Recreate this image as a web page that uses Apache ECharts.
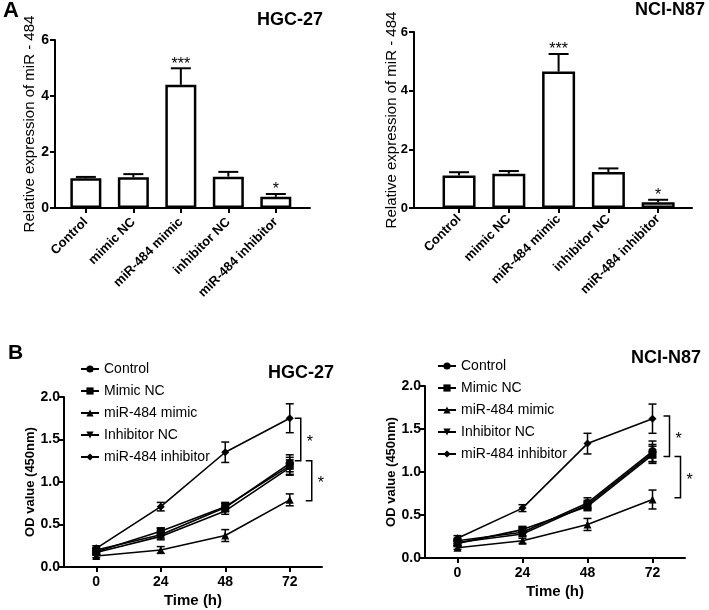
<!DOCTYPE html>
<html><head><meta charset="utf-8">
<script src="https://cdn.jsdelivr.net/npm/echarts@6/dist/echarts.min.js"></script>
<style>html,body{margin:0;padding:0;background:#fff}#c{width:709px;height:610px}</style>
</head><body><div id="c"></div>
<script>
// ---------- data ----------
const barCategories = ['Control', 'mimic NC', 'miR-484 mimic', 'inhibitor NC', 'miR-484 inhibitor'];
const barSig = ['', '', '***', '', '*'];
const hgcBarMean = [1.06, 1.10, 4.40, 1.12, 0.40];
const hgcBarErr  = [0.05, 0.11, 0.59, 0.17, 0.10];
const nciBarMean = [1.11, 1.17, 4.65, 1.23, 0.20];
const nciBarErr  = [0.11, 0.09, 0.60, 0.12, 0.08];

const timePoints = ['0', '24', '48', '72'];
const seriesNames = ['Control', 'Mimic NC', 'miR-484 mimic', 'Inhibitor NC', 'miR-484 inhibitor'];

const hgcControl     = [0.20, 0.38, 0.70, 1.22];
const hgcControlErr  = [0.03, 0.04, 0.05, 0.10];
const hgcMimicNC     = [0.18, 0.42, 0.71, 1.19];
const hgcMimicNCErr  = [0.03, 0.04, 0.05, 0.10];
const hgcMimic       = [0.13, 0.20, 0.37, 0.79];
const hgcMimicErr    = [0.02, 0.04, 0.07, 0.07];
const hgcInhibNC     = [0.17, 0.36, 0.66, 1.17];
const hgcInhibNCErr  = [0.03, 0.04, 0.04, 0.09];
const hgcInhib       = [0.22, 0.71, 1.35, 1.75];
const hgcInhibErr    = [0.03, 0.05, 0.12, 0.17];

const nciControl     = [0.20, 0.30, 0.64, 1.24];
const nciControlErr  = [0.03, 0.04, 0.06, 0.12];
const nciMimicNC     = [0.17, 0.33, 0.60, 1.20];
const nciMimicNCErr  = [0.03, 0.03, 0.05, 0.10];
const nciMimic       = [0.12, 0.20, 0.39, 0.68];
const nciMimicErr    = [0.02, 0.03, 0.07, 0.11];
const nciInhibNC     = [0.18, 0.28, 0.62, 1.22];
const nciInhibNCErr  = [0.03, 0.03, 0.05, 0.10];
const nciInhib       = [0.23, 0.58, 1.33, 1.62];
const nciInhibErr    = [0.03, 0.04, 0.12, 0.17];

// significance brackets at 72 h: [upper value, lower value]
const hgcBrackets = [[1.75, 1.25], [1.25, 0.78]];
const nciBrackets = [[1.65, 1.18], [1.18, 0.70]];

// ---------- rendering ----------
const F = 'Arial, "Liberation Sans", Helvetica, sans-serif';
const chart = echarts.init(document.getElementById('c'), null, {renderer: 'canvas'});

const symbols = ['circle', 'rect', 'triangle', 'triangle', 'diamond'];
const rotations = [0, 0, 0, 180, 0];
const sizes = [8, 8, 8, 8, 8];

function barAxesX(gi, min, max, margin) {
  return {
    gridIndex: gi, type: 'value', min: min, max: max,
    axisLine: {show: true, onZero: false, lineStyle: {color: '#000', width: 2}},
    axisTick: {show: true, customValues: [0, 1, 2, 3, 4], length: 5, lineStyle: {color: '#000', width: 2}},
    axisLabel: {customValues: [0, 1, 2, 3, 4], formatter: v => barCategories[Math.round(v)], rotate: 45,
      fontFamily: F, fontWeight: 'bold', fontSize: 13, color: '#000', margin: margin},
    splitLine: {show: false}
  };
}
function barAxesY(gi, gap, lm, fs) {
  return {
    gridIndex: gi, type: 'value', min: 0, max: 6, interval: 2,
    name: 'Relative expression of miR - 484', nameLocation: 'middle', nameGap: gap, nameMoveOverlap: false,
    nameTextStyle: {fontFamily: F, fontSize: 15, color: '#000'},
    axisLine: {show: true, onZero: false, lineStyle: {color: '#000', width: 2}},
    axisTick: {show: true, length: 5, lineStyle: {color: '#000', width: 2}},
    axisLabel: {fontFamily: F, fontWeight: 'bold', fontSize: fs, color: '#000', margin: lm},
    splitLine: {show: false}
  };
}
function lineAxesX(gi) {
  return {
    gridIndex: gi, type: 'category', data: timePoints, boundaryGap: true,
    name: 'Time (h)', nameLocation: 'middle', nameGap: 26,
    nameTextStyle: {fontFamily: F, fontWeight: 'bold', fontSize: 15, color: '#000'},
    axisLine: {show: true, lineStyle: {color: '#000', width: 2}},
    axisTick: {show: true, alignWithLabel: true, length: 5, lineStyle: {color: '#000', width: 2}},
    axisLabel: {fontFamily: F, fontWeight: 'bold', fontSize: 14, color: '#000', margin: 8},
    splitLine: {show: false}
  };
}
function lineAxesY(gi) {
  return {
    gridIndex: gi, type: 'value', min: 0, max: 2, interval: 0.5,
    name: 'OD value (450nm)', nameLocation: 'middle', nameGap: 26,
    nameTextStyle: {fontFamily: F, fontWeight: 'bold', fontSize: 13, color: '#000'},
    axisLine: {show: true, onZero: false, lineStyle: {color: '#000', width: 2}},
    axisTick: {show: true, length: 5, lineStyle: {color: '#000', width: 2}},
    axisLabel: {fontFamily: F, fontWeight: 'bold', fontSize: 14, color: '#000', margin: 4, formatter: v => v.toFixed(1)},
    splitLine: {show: false}
  };
}

function barSeries(gi, means, errs, bw, capHalf) {
  const bars = {
    type: 'bar', xAxisIndex: gi, yAxisIndex: gi, barWidth: bw, silent: true,
    data: means.map((v, i) => [i, v]),
    itemStyle: {color: '#fff', borderColor: '#000', borderWidth: 2.5}
  };
  const err = {
    type: 'custom', xAxisIndex: gi, yAxisIndex: gi, silent: true, z: 5,
    data: means.map((v, i) => [i, v, v + errs[i]]),
    renderItem: function (params, api) {
      const p1 = api.coord([api.value(0), api.value(1)]);
      const p2 = api.coord([api.value(0), api.value(2)]);
      const st = {stroke: '#000', lineWidth: 2};
      const children = [
        {type: 'line', shape: {x1: p1[0], y1: p1[1], x2: p2[0], y2: p2[1]}, style: st},
        {type: 'line', shape: {x1: p2[0] - capHalf, y1: p2[1], x2: p2[0] + capHalf, y2: p2[1]}, style: st}
      ];
      const s = barSig[params.dataIndex];
      if (s) children.push({type: 'text', style: {text: s, x: p2[0], y: p2[1] + 4, align: 'center',
        verticalAlign: 'bottom', fontFamily: F, fontSize: 16, fill: '#000'}});
      return {type: 'group', children: children};
    }
  };
  return [bars, err];
}

function lineSeries(gi, arrs, errs, brackets, offs) {
  const out = [];
  arrs.forEach((a, k) => {
    out.push({
      type: 'line', name: seriesNames[k], xAxisIndex: gi, yAxisIndex: gi, data: a,
      symbol: symbols[k], symbolSize: sizes[k], symbolRotate: rotations[k], showSymbol: true,
      lineStyle: {color: '#000', width: 1.6}, itemStyle: {color: '#000'}, z: 3
    });
  });
  const eData = [];
  arrs.forEach((a, k) => a.forEach((v, i) => eData.push([i, v - errs[k][i], v + errs[k][i]])));
  out.push({
    type: 'custom', xAxisIndex: gi, yAxisIndex: gi, silent: true, z: 4, data: eData,
    renderItem: function (params, api) {
      const lo = api.coord([api.value(0), api.value(1)]);
      const hi = api.coord([api.value(0), api.value(2)]);
      const st = {stroke: '#000', lineWidth: 1.5};
      const c = 4;
      return {type: 'group', children: [
        {type: 'line', shape: {x1: lo[0], y1: lo[1], x2: hi[0], y2: hi[1]}, style: st},
        {type: 'line', shape: {x1: lo[0] - c, y1: lo[1], x2: lo[0] + c, y2: lo[1]}, style: st},
        {type: 'line', shape: {x1: hi[0] - c, y1: hi[1], x2: hi[0] + c, y2: hi[1]}, style: st}
      ]};
    }
  });
  out.push({
    type: 'custom', xAxisIndex: gi, yAxisIndex: gi, silent: true, z: 4,
    data: brackets.map(b => [timePoints.length - 1, b[0], b[1]]),
    renderItem: function (params, api) {
      const o = offs[params.dataIndex];
      const t = api.coord([api.value(0), api.value(1)]);
      const b = api.coord([api.value(0), api.value(2)]);
      const x = t[0] + o;
      const st = {stroke: '#000', lineWidth: 1.5};
      return {type: 'group', children: [
        {type: 'polyline', shape: {points: [[x - 6, t[1]], [x, t[1]], [x, b[1]], [x - 6, b[1]]]}, style: Object.assign({fill: null}, st)},
        {type: 'text', style: {text: '*', x: x + 9, y: (t[1] + b[1]) / 2 + 3, align: 'center', verticalAlign: 'middle',
          fontFamily: F, fontSize: 16, fill: '#000'}}
      ]};
    }
  });
  return out;
}

const titleStyle = {fontFamily: F, fontWeight: 'bold', fontSize: 18, color: '#000'};
const option = {
  animation: false,
  backgroundColor: '#fff',
  title: [
    {text: 'A', left: 3, top: 0, padding: 0, textStyle: Object.assign({}, titleStyle, {fontSize: 22})},
    {text: 'HGC-27', left: 257, top: 11, padding: 0, textStyle: titleStyle},
    {text: 'NCI-N87', left: 635, top: 1, padding: 0, textStyle: titleStyle},
    {text: 'B', left: 8, top: 343, padding: 0, textStyle: Object.assign({}, titleStyle, {fontSize: 21})},
    {text: 'HGC-27', left: 268, top: 364, padding: 0, textStyle: titleStyle},
    {text: 'NCI-N87', left: 631, top: 349, padding: 0, textStyle: titleStyle}
  ],
  legend: [
    {data: seriesNames, orient: 'vertical', left: 80, top: 362, padding: 0, itemWidth: 18, itemHeight: 9, itemGap: 8,
      selectedMode: false, textStyle: {fontFamily: F, fontSize: 14, color: '#000'}},
    {data: seriesNames, orient: 'vertical', left: 437, top: 359, padding: 0, itemWidth: 18, itemHeight: 9, itemGap: 8,
      selectedMode: false, textStyle: {fontFamily: F, fontSize: 14, color: '#000'}}
  ],
  grid: [
    {left: 55, top: 40, width: 255, height: 168},
    {left: 414, top: 32, width: 278, height: 176},
    {left: 64, top: 397, width: 258, height: 170},
    {left: 425, top: 386, width: 260, height: 172}
  ],
  xAxis: [barAxesX(0, -0.65, 4.72, 12), barAxesX(1, -0.905, 4.68, 9), lineAxesX(2), lineAxesX(3)],
  yAxis: [barAxesY(0, 18, 6, 14), barAxesY(1, 15, 6, 13), lineAxesY(2), lineAxesY(3)],
  series: [].concat(
    barSeries(0, hgcBarMean, hgcBarErr, 31, 10),
    barSeries(1, nciBarMean, nciBarErr, 33, 10),
    lineSeries(2, [hgcControl, hgcMimicNC, hgcMimic, hgcInhibNC, hgcInhib],
      [hgcControlErr, hgcMimicNCErr, hgcMimicErr, hgcInhibNCErr, hgcInhibErr], hgcBrackets, [11, 22]),
    lineSeries(3, [nciControl, nciMimicNC, nciMimic, nciInhibNC, nciInhib],
      [nciControlErr, nciMimicNCErr, nciMimicErr, nciInhibNCErr, nciInhibErr], nciBrackets, [17, 28])
  )
};
chart.setOption(option);
</script>
</body></html>
